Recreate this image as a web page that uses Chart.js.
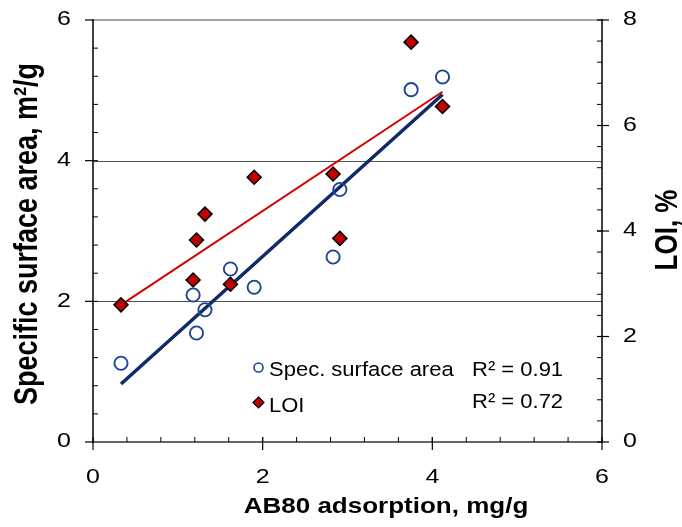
<!DOCTYPE html>
<html>
<head>
<meta charset="utf-8">
<script src="https://cdn.jsdelivr.net/npm/chart.js@4.4.1/dist/chart.umd.min.js"></script>
<style>
  html, body { margin: 0; padding: 0; background: #fff; }
  #chart { display: block; }
</style>
</head>
<body>
<canvas id="chart" width="682" height="527"></canvas>
<script>
// AB80 adsorption vs specific surface area (left axis) and LOI (right axis)
var adsorption  = [0.33, 1.18, 1.22, 1.32, 1.62, 1.90, 2.83, 2.91, 3.75, 4.12];
var surfaceArea = [1.12, 2.09, 1.55, 1.88, 2.46, 2.20, 2.63, 3.59, 5.01, 5.19];
var loi         = [2.60, 3.07, 3.83, 4.32, 2.99, 5.02, 5.08, 3.86, 7.58, 6.36];

// linear trend lines, end points
var fitX        = [0.33, 4.12];
var fitSurface  = [0.825, 4.94];
var fitLoi      = [2.60, 6.64];

var xTicks  = [0, 2, 4, 6];
var yTicks  = [0, 2, 4, 6];
var y2Ticks = [0, 2, 4, 6, 8];
var gridAt  = [2, 4];
var minorStep = 0.4;

var seriesNames = ['Spec. surface area', 'LOI'];
var rSquared    = ['R\u00b2 = 0.91', 'R\u00b2 = 0.72'];

var palette = {
    navy:     '#1f4590',
    navyLine: '#0f2a6b',
    red:      '#c00000',
    redLine:  '#d40000',
    grid:     '#555555',
    frame:    '#a6a6a6',
    axis:     '#000000',
    text:     '#000000'
};
var FONT = "'Liberation Sans', Arial, Helvetica, sans-serif";

function pts(xs, ys) {
    return xs.map(function (x, i) { return { x: x, y: ys[i] }; });
}

function text(ctx, s, x, y, o) {
    ctx.save();
    ctx.translate(x, y);
    if (o.rot) ctx.rotate(o.rot);
    ctx.scale(o.sx || 1, o.sy || 1);
    ctx.font = o.font;
    ctx.fillStyle = palette.text;
    ctx.textAlign = o.align || 'left';
    ctx.textBaseline = o.baseline || 'alphabetic';
    ctx.fillText(s, 0, 0);
    ctx.restore();
}

function line(ctx, x1, y1, x2, y2, color, w) {
    ctx.beginPath();
    ctx.strokeStyle = color;
    ctx.lineWidth = w;
    ctx.moveTo(x1, y1);
    ctx.lineTo(x2, y2);
    ctx.stroke();
}

var frame = {
    id: 'frame',
    beforeDatasetsDraw: function (chart) {
        var ctx = chart.ctx, a = chart.chartArea, y = chart.scales.y;
        ctx.save();
        gridAt.forEach(function (v) {
            var py = Math.round(y.getPixelForValue(v)) + 0.5;
            line(ctx, a.left, py, a.right, py, palette.grid, 1);
        });
        line(ctx, a.left, y.getPixelForValue(6), a.right, y.getPixelForValue(6), palette.frame, 2);
        ctx.restore();
    },
    afterDraw: function (chart) {
        var ctx = chart.ctx, a = chart.chartArea;
        var sx = chart.scales.x, sy = chart.scales.y, sy2 = chart.scales.y2;
        var i, v, p;
        ctx.save();

        // axis lines
        line(ctx, a.left, a.top - 1, a.left, a.bottom + 1, palette.axis, 1.5);
        line(ctx, a.right, a.top - 1, a.right, a.bottom + 1, palette.axis, 1.5);
        line(ctx, a.left, a.bottom, a.right, a.bottom, '#333', 1.5);

        // minor ticks (inside)
        for (i = 1; i * minorStep < 6 - 1e-6; i++) {
            v = i * minorStep;
            p = sx.getPixelForValue(v);
            line(ctx, p, a.bottom, p, a.bottom - 5, palette.axis, 1);
            p = sy.getPixelForValue(v);
            line(ctx, a.left, p, a.left + 5, p, palette.axis, 1);
        }
        for (i = 1; i * minorStep < 8 - 1e-6; i++) {
            p = sy2.getPixelForValue(i * minorStep);
            line(ctx, a.right, p, a.right - 5, p, palette.axis, 1);
        }

        // major ticks and labels
        var tickFont = '25px ' + FONT;
        xTicks.forEach(function (t) {
            var px = sx.getPixelForValue(t);
            line(ctx, px, a.bottom - 5, px, a.bottom + 8, palette.axis, 1.2);
            text(ctx, String(t), px, 483, { font: tickFont, align: 'center', sy: 0.78 });
        });
        yTicks.forEach(function (t) {
            var py = sy.getPixelForValue(t);
            line(ctx, a.left - 8, py, a.left, py, palette.axis, 1.2);
            text(ctx, String(t), a.left - 22, py, { font: tickFont, align: 'right', baseline: 'middle', sy: 0.78 });
        });
        y2Ticks.forEach(function (t) {
            var py = sy2.getPixelForValue(t);
            line(ctx, a.right - 5, py, a.right + 7, py, palette.axis, 1.2);
            text(ctx, String(t), a.right + 21, py, { font: tickFont, align: 'left', baseline: 'middle', sy: 0.78 });
        });

        // axis titles
        text(ctx, 'AB80 adsorption, mg/g', 386, 513, { font: 'bold 26px ' + FONT, align: 'center', sy: 0.82 });
        text(ctx, 'Specific surface area, m\u00b2/g', 37, 234, { font: 'bold 27px ' + FONT, align: 'center', rot: -Math.PI / 2, sy: 1.2 });
        text(ctx, 'LOI, %', 677, 230, { font: 'bold 26px ' + FONT, align: 'center', rot: -Math.PI / 2, sy: 1.2 });

        // legend inside the plot
        var lf = '22px ' + FONT;
        ctx.beginPath();
        ctx.strokeStyle = palette.navy;
        ctx.lineWidth = 1.6;
        ctx.arc(258.5, 367.5, 4.5, 0, Math.PI * 2);
        ctx.stroke();
        text(ctx, seriesNames[0], 269, 376, { font: lf, sy: 0.92 });
        text(ctx, rSquared[0], 472, 376, { font: lf, sy: 0.92 });

        ctx.beginPath();
        ctx.moveTo(258.5, 397); ctx.lineTo(264, 402.5); ctx.lineTo(258.5, 408); ctx.lineTo(253, 402.5);
        ctx.closePath();
        ctx.fillStyle = palette.red;
        ctx.fill();
        ctx.strokeStyle = '#000';
        ctx.lineWidth = 1.2;
        ctx.stroke();
        text(ctx, seriesNames[1], 269, 411.5, { font: lf, sy: 0.92 });
        text(ctx, rSquared[1], 472, 407.5, { font: lf, sy: 0.92 });

        ctx.restore();
    }
};

new Chart(document.getElementById('chart'), {
    type: 'scatter',
    data: {
        datasets: [{
            label: seriesNames[0],
            data: pts(adsorption, surfaceArea),
            yAxisID: 'y',
            pointStyle: 'circle',
            pointRadius: 6.6,
            pointBorderWidth: 1.9,
            pointBorderColor: palette.navy,
            pointBackgroundColor: 'rgba(255,255,255,0)'
        }, {
            label: seriesNames[1],
            data: pts(adsorption, loi),
            yAxisID: 'y2',
            pointStyle: 'rectRot',
            pointRadius: 7,
            pointBorderWidth: 1.5,
            pointBorderColor: '#000',
            pointBackgroundColor: palette.red
        }, {
            type: 'line',
            data: pts(fitX, fitSurface),
            yAxisID: 'y',
            borderColor: palette.navyLine,
            borderWidth: 3.5,
            pointRadius: 0,
            fill: false
        }, {
            type: 'line',
            data: pts(fitX, fitLoi),
            yAxisID: 'y2',
            borderColor: palette.redLine,
            borderWidth: 2,
            pointRadius: 0,
            fill: false
        }]
    },
    options: {
        responsive: false,
        animation: false,
        devicePixelRatio: 1,
        layout: { padding: { top: 20, left: 0, right: 0, bottom: 0 } },
        plugins: { legend: { display: false }, tooltip: { enabled: false } },
        scales: {
            x: {
                type: 'linear', min: 0, max: 6,
                ticks: { display: false }, grid: { display: false }, border: { display: false },
                afterFit: function (s) { s.height = 85; }
            },
            y: {
                type: 'linear', position: 'left', min: 0, max: 6,
                ticks: { display: false }, grid: { display: false }, border: { display: false },
                afterFit: function (s) { s.width = 93; }
            },
            y2: {
                type: 'linear', position: 'right', min: 0, max: 8,
                ticks: { display: false }, grid: { display: false }, border: { display: false },
                afterFit: function (s) { s.width = 80; }
            }
        }
    },
    plugins: [frame]
});
</script>
</body>
</html>
